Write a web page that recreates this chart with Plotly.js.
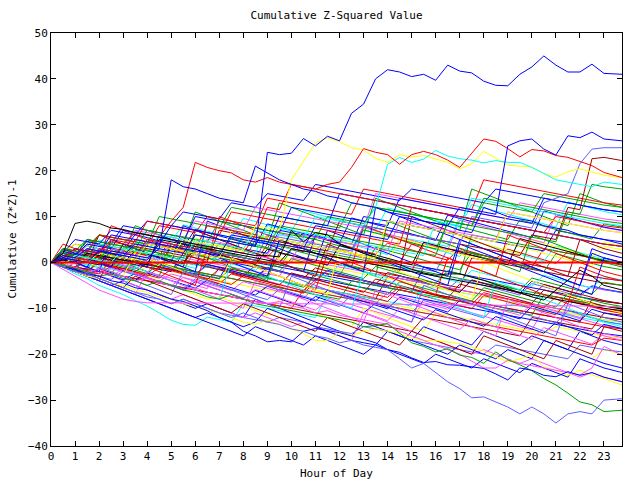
<!DOCTYPE html>
<html>
<head>
<meta charset="utf-8">
<script src="https://cdn.plot.ly/plotly-3.0.1.min.js"></script>
<style>html,body{margin:0;padding:0;background:#fff;}#chart{width:640px;height:480px;}</style>
</head>
<body>
<div id="chart"></div>
<script>
// Hour of day for each sample (half-hourly, last sample at 23.75)
var hours = [0,0.5,1,1.5,2,2.5,3,3.5,4,4.5,5,5.5,6,6.5,7,7.5,8,8.5,9,9.5,10,10.5,11,11.5,12,12.5,13,13.5,14,14.5,15,15.5,16,16.5,17,17.5,18,18.5,19,19.5,20,20.5,21,21.5,22,22.5,23,23.75];
var xTickLabels = ["0","1","2","3","4","5","6","7","8","9","10","11","12","13","14","15","16","17","18","19","20","21","22","23"];
var xTickValues = [0,1,2,3,4,5,6,7,8,9,10,11,12,13,14,15,16,17,18,19,20,21,22,23];

// Prominent traced series
var s01 = [0,1.5,1,3,2.5,2,1.5,4,3.5,3,2.5,2,6,5.5,5,4.5,4,3.5,24,23.5,23.8,27,25.4,27.5,26.5,32.5,34.5,40,42,41.5,40.5,41,39.7,43,41.7,41.3,39.5,38.6,38.5,41,42.6,45,43,41.5,41.5,43.2,41.2,41];
var s02 = [0,1,0.5,0,2.5,2,1.5,1,0.5,4,3.5,3,2.5,2,1.5,6,5.5,5,4.5,4,3.5,3,8,7.5,7,6.5,6,5.5,5,10,9.5,9,8.5,8,12,11.5,11,10.5,25.4,26.5,26.9,24.7,23.4,27.6,27.2,28.4,26.9,26.5];
var s03 = [0,1,3,2.5,2,4.5,4,6.5,6,5.5,9,12,21.8,20.7,20,19.5,18,17.5,18.5,17.5,17,16.5,16,17,17.5,20.7,24.8,24,23.5,21.4,23.5,24.2,23.5,22.3,20.7,23.8,26.9,26.4,24.8,23,24.6,24.3,23.3,22.9,22,21.1,19.6,18.5];
var s04 = [0,-0.5,1.5,1,0.5,0,3,2.5,2,1.5,1,5,4.5,4,3.5,3,2.5,8,7.5,7,18,22,26,27.2,26.3,25,24.5,22.7,21.8,23.5,23,23.3,22.6,21.8,20.4,21.5,24.2,22.7,21.2,21,20.8,19.3,18.6,19.8,20.4,19.7,19,18.5];
var s05 = [0,-1,1.5,1,0.5,0,3,2.5,2,1.5,1,0.5,5,4.5,4,3.5,3,7,6.5,6,5.5,5,10,9.5,9,8.5,8,12,21.4,22.9,21.8,22.5,24.4,23.2,22.6,22.3,21.7,22.2,21.8,21.8,20.7,19.4,18,17.5,17,16.5,17.5,17];
var s06 = [0,-1,-2,-2.5,-3.5,-4.5,-5.5,-6.5,-7.5,-8,-9,-8,-9,-10,-11,-12,-11,-12,-13,-13.5,-14.5,-15,-16,-16.5,-17.5,-17,-18,-18.5,-19,-21,-23,-22,-24,-26,-27.5,-29.5,-29.3,-30.4,-31.5,-33,-31.5,-33,-35,-33,-32.5,-33,-30,-29.7];
var s07 = [0,-1,-1.5,-2.5,-3,-4,-4.5,-5.5,-6,-7,-8,-8.5,-9.5,-10.5,-12,-13,-15,-16,-17.3,-17,-17.3,-15,-14.4,-14.8,-15.3,-16,-16.8,-17.5,-19,-19.6,-20.8,-21.8,-21.6,-22.3,-22.4,-22.8,-23.1,-24.3,-25.6,-23,-23.5,-24.6,-24.9,-23.8,-24.6,-24,-25,-26];
var s08 = [0,-0.5,-1.5,-2,-3,-2.5,-3.5,-4,-5,-4,-5,-6,-6.5,-7.5,-8,-7,-8,-9,-9.5,-10,-10.5,-11,-11.5,-12,-12.5,-13,-14,-13.8,-13.3,-15.5,-17.5,-18.3,-19.5,-18.8,-20.2,-20.7,-22,-19.5,-21.2,-22.3,-23.6,-25.3,-26.7,-28.5,-30.4,-31,-32.5,-32.2];
var s09 = [0,-0.5,-1,-2,-1.5,-2.5,-3,-4,-3.5,-4.5,-5,-6,-5.5,-6.5,-7,-7.5,-8,-8.5,-9,-8.5,-9.5,-10,-11,-10.5,-11.5,-12,-12.5,-13,-13.5,-15,-16,-17,-18,-19,-20,-21.5,-23,-23,-21.3,-22,-22.5,-23,-23.4,-24,-24.5,-23,-18.3,-20.2];
var s10 = [0,0,0,0,0,0,0,0,0,0,0,0,0,0,0,0,0,0,0,0,0,0,0,0,0,0,0,0,0,0,0,0,0,0,0,0,0,0,0,0,0,0,0,0,0,0,0,0];
var s11 = [0,-1.5,-3,-4.5,-6,-7,-8,-8.5,-8.8,-8.8,-8.8,-8.8,-8.8,-8.8,-8.8,-8.9,-8.9,-8.9,-8.9,-8.9,-9,-9,-9,-9,-9,-9,-9.1,-9.1,-9.1,-9.1,-9.2,-9.2,-9.2,-9.2,-9.3,-9.3,-9.3,-9.3,-9.4,-9.4,-9.4,-9.4,-9.5,-9.5,-9.5,-9.5,-9.6,-9.6];
var s12 = [0,2,8.5,9,8.5,7.5,7.2,6.5,6,5.5,5,4.5,4,3.5,3,2.5,2,1.5,1.5,1.2,7,4.5,6.5,6,4.1,3,2,1.2,0.4,-0.5,-1.5,-2.3,-2.8,-2.5,-2.5,-3.2,-3.9,-4.8,-5.7,-6.5,-7.5,-8.2,-6,-3.9,-1.7,-3,-5,-6];
var s13 = [0,1,0.5,0,-0.5,2.5,2,1.5,1,3,18,16.5,16,15,14,13.5,13,21,19.5,18,17,16,15.5,14.5,14,13,12.5,12,11,10.5,10,9,8.5,8,7,6.5,12,11,10,9.5,9,8,7.5,7,6,5.5,5,4];
var s14 = [0,-1,-2,-3,-3.5,-4.5,-5,-6,-6.5,-7.5,-8,-9,-9.5,-10.5,-11,-12,-13,-13.5,-12.6,-13.5,-14.5,-15.5,-17,-17,-15.2,-15.9,-15,-14.5,-15,-15.5,-16.5,-17,-17,-17.3,-17.7,-18.5,-19.3,-20.5,-21.7,-21,-20.2,-22.8,-23.5,-24.6,-23.5,-24.5,-25.3,-26.7];

// Bundle series
var b01 = [0,2,1.5,1,4,3.5,3,2.5,2,1.5,5,4.5,4,3.5,3,2.5,2,6,5.5,5,4.5,4,3.5,3,2.5,2,1.5,1,0.5,0,4,3.5,3,2.5,2,1.5,1,0.5,0,-0.5,-1,3,2.5,2,1.5,1,0.5,0];
var b02 = [0,-0.5,-1,2,1.5,1,0.5,0,-0.5,-1,-1.5,-2,3,2.5,2,1.5,1,0.5,0,-0.5,-1,-1.5,-2,-2.5,-3,2,1.5,1,0.5,0,-0.5,-1,-1.5,-2,-2.5,6,5.5,5,4.5,4,3.5,3,2.5,2,1.5,1,0.5,0];
var b03 = [0,3,2.5,2,1.5,1,0.5,0,-0.5,-1,-1.5,-2,-2.5,-3,-3.5,1,0.5,0,-0.5,-1,-1.5,-2,-2.5,-3,-3.5,-4,-4.5,-5,-5.5,-6,-6.5,-1,-1.5,-2,-2.5,-3,-3.5,-4,-4.5,-5,-5.5,-6,-6.5,-7,-7.5,-8,-8.5,-9];
var b04 = [0,-0.8,-1.6,-2.4,1,0.3,-0.5,-1.2,-2,-2.7,-3.5,-4.2,-5,-5.7,-1,-1.7,-2.5,-3.2,-4,-4.7,-5.5,-6.2,-7,-7.7,-8.5,-9.2,-10,-10.7,-11.5,-12.2,-13,-8,-8.7,-9.5,-10.2,-11,-11.7,-12.5,-13.2,-14,-14.7,-10,-10.7,-11.5,-12.2,-13,-13.7,-14.5];
var b05 = [0,-1,-2.5,-3.5,-5,-6,-7,-8.3,-9.5,-11,-12.6,-13.5,-13.7,-11.9,-12.5,-13,-9,-9.5,-10,-10.5,-11,-11.5,-12,-7,-7.5,-8,-8.5,-9,-9.5,-10,-10.5,-11,-11.5,-12,-12.5,-13,-13.5,-14,-9,-9.5,-10,-10.5,-11,-11.5,-12,-12.5,-13,-13.5];
var b06 = [0,1,0.5,0,-0.5,-1,3,2.5,2,1.5,1,0.5,0,-0.5,-1,-1.5,-2,-2.5,-3,2,1.5,1,0.5,0,-0.5,-1,-1.5,-2,-2.5,-3,-3.5,-4,-4.5,-5,-5.5,1,0.5,0,-0.5,-1,-1.5,-2,-2.5,-3,-3.5,-4,-4.5,-5];
var b07 = [0,-1,-2,-3,-4,-5,-6,-2,-3,-4,-5,-6,-7,-8,-7.5,-8.5,-9.5,-10.5,-11.5,-8,-9,-10,-11,-12,-13,-14,-10,-11,-12,-13,-14,-15,-11,-12,-13,-14,-15,-16,-17,-18,-16,-17,-18,-19,-20,-21,-19,-20];
var b08 = [0,1.5,1,0.5,0,3,2.5,2,1.5,1,0.5,0,-0.5,-1,-1.5,-2,-2.5,-3,-3.5,-4,-4.5,-5,-5.5,-6,-6.5,-7,-7.5,-8,-3,-3.5,-4,-4.5,-5,-5.5,-6,-6.5,-7,-7.5,-8,-8.5,-9,-9.5,-10,-10.5,-11,-11.5,-12,-12.5];
var b09 = [0,-0.5,2,1.5,1,0.5,0,-0.5,4,3.5,3,2.5,2,1.5,1,0.5,6,5.5,5,4.5,4,3.5,3,2.5,2,1.5,1,0.5,0,-0.5,-1,-1.5,-2,3,2.5,2,1.5,1,0.5,0,-0.5,-1,-1.5,-2,-2.5,-3,-3.5,-4];
var b10 = [0,-0.5,-1,-1.5,-2,-2.5,1,0.5,0,-0.5,-1,-1.5,-2,-2.5,-3,-3.5,-4,-4.5,-5,-5.5,-6,-6.5,-2,-2.5,-3,-3.5,-4,-4.5,-5,-5.5,-6,-6.5,-7,-7.5,-8,-8.5,-9,-9.5,-10,-10.5,-11,-11.5,-12,-12.5,-13,-13.5,-14,-14.5];
var b11 = [0,2,4,3.5,6,5.5,5,4.5,4,3.5,3,2.5,2,1.5,1,0.5,0,5,4.5,4,3.5,3,2.5,2,1.5,1,0.5,0,-0.5,-1,-1.5,-2,-2.5,-3,-3.5,-4,-4.5,-5,-5.5,-6,-6.5,-7,-7.5,-8,-8.5,-9,-9.5,-10];
var b12 = [0,-1,-2,-3,-4,-5,-4,-5,-6,-7,-8,-9,-10,-9,-10,-11,-12,-8,-9,-10,-11,-12,-13,-14,-15,-16,-13,-14,-15,-16,-17,-14,-15,-16,-17,-18,-15,-16,-17,-18,-16,-17,-18,-19,-15,-16,-17,-18];
var b13 = [0,1,0.5,0,-0.5,-1,-1.5,-2,-2.5,2,1.5,1,0.5,0,-0.5,-1,-1.5,-2,-2.5,-3,1,0.5,0,-0.5,-1,-1.5,-2,-2.5,-3,-3.5,-4,-4.5,-5,-5.5,-6,-6.5,-7,-7.5,-8,-8.5,-9,-9.5,-10,-10.5,-5,-5.5,-6,-6.5];
var b14 = [0,1.5,3,2.5,2,1.5,1,5,4.5,4,3.5,3,2.5,8,7.5,7,6.5,6,5.5,5,4.5,4,3.5,3,2.5,2,7,6.5,6,5.5,5,4.5,4,3.5,10,9.5,9,8.5,8,7.5,7,6.5,6,5.5,5,4.5,4,3.5];
var b15 = [0,-0.5,-1,-1.5,-2,-2.5,-3,-3.5,-4,-4.5,-5,-5.5,-6,-6.5,-7,-7.5,-8,-8.5,-9,-9.5,-10,-10.5,-11,-11.5,-12,-12.5,-13,-13.5,-14,-14.5,-15,-12,-12.5,-13,-13.5,-14,-14.5,-15,-15.5,-16,-12,-12.5,-13,-13.5,-14,-14.5,-11,-11.5];
var b16 = [0,1,0.5,0,-0.5,-1,-1.5,-2,-1,-1.5,-2,-2.5,-3,-3.5,-4,-4.5,-5,-5.5,-6,-6.5,-7,-7.5,-6,-6.5,-7,-7.5,-8,-8.5,-9,-9.5,-10,-10.5,-11,-11.5,-12,-12.5,-13,-13.5,-14,-14.5,-15,-15.5,-14,-14.5,-15,-15.5,-16,-16.5];
var b17 = [0,0.5,2,1.5,1,0.5,0,-0.5,-1,-1.5,-2,2,1.5,1,0.5,0,-0.5,-1,-1.5,-2,-2.5,-3,-3.5,-4,-4.5,-5,-5.5,-6,-6.5,-7,-7.5,-8,-8.5,-9,-9.5,-10,-10.5,-11,-11.5,-12,-12.5,-13,-13.5,-14,-14.5,-15,-15.5,-16];
var b18 = [0,-1,-2,-2.5,-3.5,-4.5,-5.5,-6.5,-7,-8,-9,-8,-9,-10,-11,-11.5,-12,-12.5,-13,-12,-12.5,-13,-14,-14.5,-15,-15.5,-14,-14.5,-15,-16,-17,-17.5,-18,-18.5,-19,-19.5,-20,-18,-18.5,-19,-19.5,-20,-20.5,-21,-18,-18.5,-19,-19.5];
var b19 = [0,3,2.5,2,1.5,1,0.5,5,4.5,4,3.5,3,2.5,2,1.5,1,0.5,0,4,3.5,3,2.5,2,1.5,1,0.5,0,-0.5,-1,-1.5,-2,4,3.5,3,2.5,2,1.5,1,0.5,0,-0.5,-1,-1.5,-2,-2.5,-3,-3.5,-4];
var b20 = [0,-0.5,-1,-1.5,2,1.5,1,0.5,0,-0.5,-1,-1.5,-2,-2.5,-3,-3.5,-4,-4.5,-5,-5.5,-6,-6.5,-7,-7.5,-8,-4,-4.5,-5,-5.5,-6,-6.5,-7,-7.5,-8,-8.5,-9,-9.5,-10,-10.5,-11,-11.5,-7,-7.5,-8,-8.5,-9,-9.5,-10];
var b21 = [0,2,1.5,5,4.5,4,8,7.5,7,6.5,6,5.5,5,4.5,4,3.5,3,2.5,2,7,6.5,6,5.5,5,4.5,4,10,9.5,9,8.5,8,7.5,7,6.5,6,5.5,5,4.5,4,3.5,3,2.5,7,6.5,6,5.5,5,4.5];
var b22 = [0,-1,-2,-3,-2,-3,-4,-5,-6,-7,-8,-7,-8,-9,-10,-11,-12,-11,-12,-13,-14,-13,-14,-15,-16,-17,-11,-12,-13,-14,-15,-16,-17,-18,-19,-20,-19,-20,-21,-22,-21,-22,-23,-24,-25,-24,-25,-26];
var b23 = [0,0.5,0,-0.5,-1,-1.5,-2,-2.5,-3,1,0.5,0,-0.5,-1,-1.5,-2,-2.5,-3,-3.5,-4,-4.5,-5,-5.5,-6,-6.5,-7,-7.5,-8,-8.5,-9,-9.5,-5,-5.5,-6,-6.5,-7,-7.5,-8,-8.5,-9,-9.5,-10,-10.5,-11,-11.5,-12,-12.5,-13];
var b24 = [0,1,2,1.5,1,0.5,0,-0.5,-1,-1.5,4,3.5,3,2.5,2,1.5,1,0.5,0,-0.5,-1,-1.5,-2,-2.5,-3,-3.5,-4,-4.5,-5,-5.5,-6,-6.5,-7,-7.5,-8,-8.5,-9,-9.5,-10,-10.5,-11,-11.5,-12,-12.5,-13,-8,-8.5,-9];
var b25 = [0,2,4,3.5,3,2.5,2,1.5,1,6,5.5,5,4.5,4,3.5,3,2.5,2,1.5,1,0.5,0,-0.5,-1,-1.5,-2,-2.5,-3,-3.5,-4,-4.5,-5,-5.5,-6,-6.5,-7,-7.5,-8,-8.5,-9,-9.5,-10,-10.5,-11,-11.5,-12,-12.5,-13];
var b26 = [0,-1,-2,-3,-4,-5,-6,-7,-8,-9,-10,-11,-12,-11,-12,-13,-14,-13,-10,-11,-12,-13,-14,-15,-16,-17,-17.5,-18,-15,-16,-17,-18,-19,-20,-18,-19,-20,-21,-19,-20,-21,-17,-18,-19,-20,-21,-22,-23];
var b27 = [0,-0.5,-1,-1.5,-2,-2.5,-3,-3.5,-4,-4.5,-5,-5.5,-6,-6.5,-7,-7.5,-8,-8.5,-9,-9.5,-10,-6,-6.5,-7,-7.5,-8,-8.5,-9,-9.5,-10,-10.5,-11,-11.5,-12,-12.5,-13,-13.5,-14,-14.5,-15,-15.5,-16,-16.5,-17,-17.5,-18,-16.5,-17];

// Jagged mid-band series
var c01 = [0,0.6,-0.1,1.8,1.1,0.4,2.9,2.2,1.6,0.9,3.4,2.7,2,1.4,4.1,3.3,2.6,1.9,1.2,3.8,3,2.3,5.6,4.8,4.1,3.3,2.5,1.8,4.2,3.5,2.7,2,1.2,0.5,3.1,2.3,1.5,0.8,2.9,2.1,1.3,0.6,-0.2,2.4,1.6,0.8,0.1,-0.6];
var c02 = [0,-0.7,-1.3,0.4,-0.3,-1,-1.8,0.9,0.2,-0.5,-1.2,-1.9,-2.6,-0.4,-1.1,-1.8,-2.5,-3.2,-1.1,-1.8,-2.6,-3.3,-4,-1.7,-2.4,-3.1,-3.9,-4.6,-5.3,-2.9,-3.6,-4.3,-5,-5.8,-6.5,-3.8,-4.5,-5.2,-6,-6.7,-4.1,-4.8,-5.5,-6.3,-7,-5.1,-5.8,-6.5];
var c03 = [0,1.4,0.7,0,2.3,1.6,0.8,0.1,-0.6,1.9,1.2,0.5,-0.3,-1,1.6,0.9,0.2,-0.5,-1.2,-1.9,0.8,0.1,-0.6,-1.4,-2.1,-2.8,-3.5,-0.9,-1.6,-2.3,-3,-3.7,-4.5,-1.8,-2.5,-3.2,-3.9,-4.6,-5.3,-6,-3.4,-4.1,-4.8,-5.5,-6.2,-6.9,-4.3,-5];
var c04 = [0,-0.8,-1.6,-2.3,-3,-1.2,-2,-2.7,-3.4,-4.1,-2.5,-3.2,-4,-4.7,-5.4,-6.1,-4.2,-4.9,-5.6,-6.4,-7.1,-7.8,-5.3,-6,-6.7,-7.4,-8.2,-8.9,-6.6,-7.3,-8,-8.7,-9.5,-10.2,-7.9,-8.6,-9.3,-10,-10.8,-11.5,-9.1,-9.8,-10.5,-11.2,-12,-9.6,-10.3,-11];
var c05 = [0,2.1,1.4,3.6,2.9,2.1,1.4,4.3,3.6,2.8,2.1,5.2,4.5,3.7,3,2.3,5.8,5.1,4.3,3.6,2.9,2.1,6.1,5.4,4.6,3.9,3.2,2.4,1.7,5,4.3,3.5,2.8,2.1,1.3,4.7,4,3.2,2.5,1.8,1,0.3,3.6,2.9,2.2,1.4,0.7,0];
var c06 = [0,-0.5,1.3,0.6,-0.1,-0.8,1,0.3,-0.4,-1.1,-1.8,0.5,-0.2,-0.9,-1.6,-2.3,-3,-0.6,-1.3,-2,-2.7,-3.4,-1.2,-1.9,-2.6,-3.3,-4,-4.7,-2.2,-2.9,-3.6,-4.3,-5,-5.7,-6.4,-3.9,-4.6,-5.3,-6,-6.7,-7.4,-4.8,-5.5,-6.2,-6.9,-7.6,-8.3,-9];
var c07 = [0,1,2.6,1.9,1.2,3.5,2.8,2,4.6,3.9,3.1,2.4,5.3,4.6,3.8,3.1,6.2,5.5,4.7,4,3.3,7.1,6.4,5.6,4.9,4.2,3.4,6.8,6.1,5.3,4.6,3.9,3.1,2.4,5.5,4.8,4,3.3,2.6,1.8,4.9,4.2,3.4,2.7,2,1.2,4.4,3.7];
var c08 = [0,-0.9,-1.8,-2.6,-1.4,-2.2,-3.1,-3.9,-2.3,-3.1,-4,-4.8,-5.6,-3.9,-4.7,-5.5,-6.3,-7.1,-5.2,-6,-6.8,-7.6,-8.4,-6.1,-6.9,-7.7,-8.5,-9.3,-10.1,-7.6,-8.4,-9.2,-10,-10.8,-8.3,-9.1,-9.9,-10.7,-11.5,-12.3,-9.5,-10.3,-11.1,-11.9,-12.7,-10.2,-11,-11.8];
var c09 = [0,0.4,-0.3,-1,0.7,0,-0.7,-1.4,0.2,-0.5,-1.2,-1.9,-2.6,-0.7,-1.4,-2.1,-2.8,-3.5,-1.3,-2,-2.7,-3.4,-4.1,-1.9,-2.6,-3.3,-4,-4.7,-5.4,-3,-3.7,-4.4,-5.1,-5.8,-3.6,-4.3,-5,-5.7,-6.4,-7.1,-4.6,-5.3,-6,-6.7,-7.4,-5.2,-5.9,-6.6];
var c10 = [0,1.7,1,0.3,2.5,1.8,1.1,3.4,2.7,2,1.3,4.2,3.5,2.8,2.1,5.3,4.6,3.9,3.2,2.5,6.4,5.7,5,4.3,3.6,2.9,7.1,6.4,5.7,5,4.3,3.6,2.9,8.5,7.8,7.1,6.4,5.7,5,9.3,8.6,7.9,7.2,6.5,5.8,5.1,8.4,7.7];
var c11 = [0,-0.6,-1.2,-1.9,-2.5,-0.8,-1.4,-2.1,-2.7,-3.4,-1.5,-2.2,-2.8,-3.5,-4.1,-4.8,-2.9,-3.6,-4.2,-4.9,-5.5,-6.2,-3.7,-4.4,-5,-5.7,-6.3,-7,-7.6,-5.2,-5.9,-6.5,-7.2,-7.8,-8.5,-9.1,-6.6,-7.3,-7.9,-8.6,-9.2,-9.9,-7.5,-8.1,-8.8,-9.4,-10.1,-10.7];
var c12 = [0,0.9,0.2,-0.5,-1.2,0.6,-0.1,-0.8,1.5,0.8,0.1,-0.6,-1.3,1.1,0.4,-0.3,-1,-1.7,0.4,-0.3,-1,-1.7,-2.4,-3.1,-0.5,-1.2,-1.9,-2.6,-3.3,-0.9,-1.6,-2.3,-3,-3.7,-4.4,-1.7,-2.4,-3.1,-3.8,-4.5,-5.2,-2.8,-3.5,-4.2,-4.9,-5.6,-3.1,-3.8];
var c13 = [0,-1,-2,-1.1,-2,-2.9,-3.8,-2.4,-3.3,-4.2,-5.1,-6,-4.2,-5.1,-6,-6.9,-7.8,-6.1,-7,-7.9,-8.8,-9.7,-7.4,-8.3,-9.2,-10.1,-11,-8.9,-9.8,-10.7,-11.6,-12.5,-10.3,-11.2,-12.1,-13,-13.9,-11.8,-12.7,-13.6,-14.5,-15.4,-13.1,-14,-14.9,-15.8,-13.5,-14.4];
var c14 = [0,1.1,2.5,1.8,3.7,3,2.3,1.6,4.4,3.7,3,2.3,1.6,5.1,4.4,3.7,3,2.3,1.6,6.3,5.6,4.9,4.2,3.5,2.8,2.1,7.6,6.9,6.2,5.5,4.8,4.1,3.4,2.7,9.2,8.5,7.8,7.1,6.4,5.7,5,4.3,10.4,9.7,9,8.3,7.6,6.9];
var c15 = [0,-0.3,-1,0.8,0.1,-0.6,-1.3,-2,-0.2,-0.9,-1.6,-2.3,-3,-3.7,-1.4,-2.1,-2.8,-3.5,-4.2,-4.9,-2.3,-3,-3.7,-4.4,-5.1,-5.8,-6.5,-3.6,-4.3,-5,-5.7,-6.4,-7.1,-7.8,-4.7,-5.4,-6.1,-6.8,-7.5,-8.2,-8.9,-6,-6.7,-7.4,-8.1,-8.8,-9.5,-10.2];
var c16 = [0,2.7,2,1.3,0.6,-0.1,3.2,2.5,1.8,1.1,0.4,-0.3,3.9,3.2,2.5,1.8,1.1,0.4,-0.3,-1,2.8,2.1,1.4,0.7,0,-0.7,-1.4,3.3,2.6,1.9,1.2,0.5,-0.2,-0.9,-1.6,2.2,1.5,0.8,0.1,-0.6,-1.3,-2,1.9,1.2,0.5,-0.2,-0.9,-1.6];
var c17 = [0,-0.7,-1.5,-2.2,-3,-3.7,-1.9,-2.7,-3.4,-4.2,-4.9,-5.7,-3.6,-4.4,-5.1,-5.9,-6.6,-7.4,-8.1,-5.8,-6.6,-7.3,-8.1,-8.8,-9.6,-7.1,-7.9,-8.6,-9.4,-10.1,-10.9,-8.3,-9.1,-9.8,-10.6,-11.3,-12.1,-9.4,-10.2,-10.9,-11.7,-12.4,-13.2,-10.5,-11.3,-12,-12.8,-13.5];
var c18 = [0,1.8,1.1,0.4,-0.3,2.2,1.5,0.8,0.1,-0.6,2.9,2.2,1.5,0.8,0.1,3.6,2.9,2.2,1.5,0.8,0.1,-0.6,4.2,3.5,2.8,2.1,1.4,0.7,0,5.3,4.6,3.9,3.2,2.5,1.8,1.1,0.4,-0.3,4.1,3.4,2.7,2,1.3,0.6,-0.1,-0.8,3.5,2.8];
var c19 = [0,1.3,3.1,2.4,4.9,4.2,3.5,6.8,6.1,5.4,4.7,8.2,7.5,6.8,6.1,5.4,9.6,8.9,8.2,7.5,6.8,11.3,10.6,9.9,9.2,8.5,7.8,7.1,11.9,11.2,10.5,9.8,9.1,8.4,7.7,12.6,11.9,11.2,10.5,9.8,9.1,8.4,7.7,13.2,12.5,11.8,11.1,10.4];
var c20 = [0,-0.4,-1.1,-1.8,-0.2,-0.9,-1.6,-2.3,-3,-1.1,-1.8,-2.5,-3.2,-3.9,-4.6,-2.5,-3.2,-3.9,-4.6,-5.3,-6,-6.7,-4.3,-5,-5.7,-6.4,-7.1,-7.8,-8.5,-5.9,-6.6,-7.3,-8,-8.7,-9.4,-10.1,-7.2,-7.9,-8.6,-9.3,-10,-10.7,-11.4,-8.3,-9,-9.7,-10.4,-11.1];
var c21 = [0,2.4,1.7,4.6,3.9,3.2,2.5,6.1,5.4,4.7,4,3.3,7.2,6.5,5.8,5.1,4.4,3.7,8.4,7.7,7,6.3,5.6,4.9,4.2,9.7,9,8.3,7.6,6.9,6.2,5.5,4.8,10.3,9.6,8.9,8.2,7.5,6.8,6.1,5.4,11.2,10.5,9.8,9.1,8.4,7.7,7];
var c22 = [0,-1,-0.2,-1.1,-2,-2.9,-1.5,-2.4,-3.3,-4.2,-5.1,-3.3,-4.2,-5.1,-6,-6.9,-7.8,-5.9,-6.8,-7.7,-8.6,-9.5,-10.4,-8.2,-9.1,-10,-10.9,-11.8,-12.7,-10.1,-11,-11.9,-12.8,-13.7,-14.6,-12.3,-13.2,-14.1,-15,-15.9,-16.8,-14.2,-15.1,-16,-16.9,-17.8,-15.5,-16.4];
var c23 = [0,0.8,0.1,1.9,1.2,0.5,-0.2,2.6,1.9,1.2,0.5,-0.2,3.1,2.4,1.7,1,0.3,-0.4,2.9,2.2,1.5,0.8,0.1,-0.6,3.7,3,2.3,1.6,0.9,0.2,-0.5,4.4,3.7,3,2.3,1.6,0.9,0.2,-0.5,5.2,4.5,3.8,3.1,2.4,1.7,1,0.3,-0.4];
var c24 = [0,-0.6,-1.3,-2,0.4,-0.3,-1,-1.7,-2.4,-0.1,-0.8,-1.5,-2.2,-2.9,-3.6,-1.2,-1.9,-2.6,-3.3,-4,-4.7,-5.4,-2.8,-3.5,-4.2,-4.9,-5.6,-6.3,-7,-4.2,-4.9,-5.6,-6.3,-7,-7.7,-8.4,-5.5,-6.2,-6.9,-7.6,-8.3,-9,-9.7,-6.8,-7.5,-8.2,-8.9,-9.6];

// Sawtooth series (steady decline, sudden rises)
var d01 = [0,-1,-2,3,2,1,0,-1,-2,-3,4,3,2,1,0,-1,-2,-3,-4,5,4,3,2,1,0,-1,-2,-3,9,8,7,6,5,4,3,2,1,0,-1,-2,6,5,4,3,2,1,0,-1];
var d02 = [0,-1,-2,-3,-4,2,1,0,-1,-2,-3,-4,-5,3,2,1,0,-1,-2,-3,-4,-5,-6,2,1,0,-1,-2,-3,-4,-5,-6,-7,1,0,-1,-2,-3,-4,-5,-6,-7,-8,-9,-1,-2,-3,-4];
var d03 = [0,1,0,-1,-2,5,4,3,2,1,0,8,7,6,5,4,3,2,1,0,-1,-2,6,5,4,3,2,1,0,-1,-2,-3,-4,-5,4,3,2,1,0,-1,-2,-3,-4,-5,-6,-7,1,0];
var d04 = [0,-1,-2,-3,-4,-5,-6,-1,-2,-3,-4,-5,-6,-7,-8,0,-1,-2,-3,-4,-5,-6,-7,-8,-9,-10,-2,-3,-4,-5,-6,-7,-8,-9,-10,-11,-12,-4,-5,-6,-7,-8,-9,-10,-11,-12,-13,-14];
var d05 = [0,2,1,0,6,5,4,3,2,1,0,-1,7,6,5,4,3,2,1,0,-1,-2,-3,4,3,2,1,0,-1,-2,10,9,8,7,6,5,4,3,2,1,0,-1,-2,-3,5,4,3,2];
var d06 = [0,-1,-2,-3,-4,-5,-6,-7,-2,-3,-4,-5,-6,-7,-8,-9,-10,-4,-5,-6,-7,-8,-9,-10,-11,-12,-13,-6,-7,-8,-9,-10,-11,-12,-13,-14,-15,-16,-8,-9,-10,-11,-12,-13,-14,-15,-16,-17];
var d07 = [0,3,2,1,0,-1,4,3,2,1,0,-1,-2,9,8,7,6,5,4,3,2,1,0,7,6,5,4,3,2,1,0,-1,-2,-3,5,4,3,2,1,0,-1,-2,-3,-4,-5,2,1,0];
var d08 = [0,-1,1,0,-1,-2,-3,2,1,0,-1,-2,-3,-4,-5,1,0,-1,-2,-3,-4,-5,-6,-7,3,2,1,0,-1,-2,-3,-4,-5,-6,-7,-8,0,-1,-2,-3,-4,-5,-6,-7,-8,-9,-10,-11];
var d09 = [0,4,3,2,1,8,7,6,5,4,3,2,1,0,10,9,8,7,6,5,4,3,2,1,0,-1,8,7,6,5,4,3,2,1,0,-1,-2,-3,6,5,4,3,2,1,0,-1,-2,-3];
var d10 = [0,-1,-2,-3,-1,-2,-3,-4,-5,-6,-7,-2,-3,-4,-5,-6,-7,-8,-9,-10,-3,-4,-5,-6,-7,-8,-9,-10,-11,-12,-13,-5,-6,-7,-8,-9,-10,-11,-12,-13,-14,-15,-16,-9,-10,-11,-12,-13];
var d11 = [0,2,1,5,4,3,2,8,7,6,5,4,11,10,9,8,7,6,5,13,12,11,10,9,8,7,6,14,13,12,11,10,9,8,7,16,15,14,13,12,11,10,9,8,15,14,13,12];
var d12 = [0,1,0,-1,3,2,1,0,-1,6,5,4,3,2,1,0,-1,-2,-3,5,4,3,2,1,0,-1,-2,12,11,10,9,8,7,6,5,4,3,2,1,0,-1,-2,-3,-4,-5,3,2,1];

// Extra upper and lower band series
var e01 = [0,2,5,4.5,4,7,6.5,6,9,8.5,8,11,10.5,10,9.5,13,12.5,12,15,14.5,14,13.5,17,16.5,16,15.5,15,14.5,14,13.5,16,15.5,15,14.5,14,13.5,13,16,15.5,15,14.5,14,13.5,13,12.5,12,11.5,11];
var e02 = [0,1,3,2.5,2,5,4.5,4,3.5,8,7.5,7,6.5,10,9.5,9,8.5,8,14,13.5,13,12.5,12,11.5,11,10.5,16,15.5,15,14.5,14,13.5,13,12.5,12,11.5,18,17.5,17,16.5,16,15.5,15,14.5,14,13.5,13,12.5];
var e03 = [0,3,2.5,2,6,5.5,5,4.5,4,10,9.5,9,8.5,8,7.5,12,11.5,11,10.5,10,9.5,9,8.5,8,7.5,13,12.5,12,11.5,11,10.5,10,9.5,9,8.5,8,14,13.5,13,12.5,12,11.5,11,10.5,10,9.5,9,8.5];
var e04 = [0,1,0.5,4,3.5,3,2.5,7,6.5,6,5.5,5,9,8.5,8,7.5,7,12,11.5,11,10.5,10,9.5,9,8.5,8,7.5,15,14.5,14,13.5,13,12.5,12,11.5,11,10.5,10,9.5,13,12.5,12,11.5,11,10.5,10,9.5,9];
var e05 = [0,-1,-2,-3,-4,-5,-6,-7,-8,-9,-10,-11,-12,-13,-14,-15,-16,-14,-15,-16,-17,-18,-16,-17,-18,-19,-20,-18,-19,-20,-21,-22,-20,-21,-22,-23,-21,-22,-23,-24,-22,-23,-24,-25,-21,-22,-23,-24];
var e06 = [0,-0.5,-1.5,-2.5,-3.5,-4.5,-5.5,-3,-4,-5,-6,-7,-8,-9,-10,-11,-9,-10,-11,-12,-13,-14,-15,-12,-13,-14,-15,-16,-17,-18,-15,-16,-17,-18,-19,-20,-16,-17,-18,-19,-20,-21,-17,-18,-19,-20,-14,-15];

// Upper-band series
var u01 = [0,2,1.5,4,3.5,3,7,6.5,6,5.5,5,4.5,10,9.5,9,8.5,8,7.5,7,6.5,12,11.5,11,10.5,10,9.5,9,8.5,8,14,13.5,13,12.5,12,11.5,11,10.5,10,9.5,9,8.5,14,13.5,13,12.5,12,11.5,11];
var u02 = [0,3,2.5,5,4.5,4,3.5,3,7,6.5,6,5.5,5,4.5,9,8.5,8,7.5,7,6.5,6,5.5,5,10,9.5,9,8.5,12,11.5,11,10.5,10,9.5,9,8.5,8,13,12.5,12,11.5,11,15,14.5,14,13.5,13,12.5,12];
var u03 = [0,1,3,2.5,6,5.5,5,4.5,9,8.5,8,7.5,7,6.5,6,11,10.5,10,9.5,9,8.5,8,7.5,7,6.5,6,5.5,5,4.5,4,12,11.5,11,10.5,10,9.5,9,8.5,8,7.5,7,6.5,10,9.5,9,8.5,8,7.5];
var u04 = [0,2,1.5,1,4,3.5,3,2.5,2,6,5.5,5,4.5,4,3.5,3,2.5,2,8,7.5,7,6.5,6,5.5,5,4.5,4,3.5,3,2.5,2,1.5,9,8.5,8,14,13.5,13,12.5,12,11.5,11,10.5,10,9.5,9,8.5,8];
var u05 = [0,1.5,1,0.5,3,2.5,2,1.5,1,0.5,5,4.5,4,3.5,3,2.5,2,1.5,1,0.5,0,6,5.5,5,4.5,4,3.5,3,2.5,9,8.5,8,7.5,7,6.5,6,5.5,5,11,10.5,10,9.5,9,8.5,8,7.5,7,6.5];
var u06 = [0,2,1.5,1,0.5,0,4,3.5,3,2.5,2,1.5,1,0.5,7,6.5,6,5.5,5,4.5,4,3.5,3,2.5,9,8.5,8,7.5,7,6.5,6,5.5,5,4.5,4,3.5,3,2.5,2,1.5,6,5.5,5,12,11.5,22.6,22.9,22.2];
var u07 = [0,1,0.5,3,2.5,2,1.5,1,5,4.5,4,3.5,3,2.5,2,1.5,1,0.5,6,5.5,5,4.5,4,3.5,3,2.5,8,7.5,7,6.5,6,5.5,5,4.5,4,10,9.5,9,8.5,8,7.5,13,14,15,21.5,24.7,25,25];
var u08 = [0,1,0.5,0,2,1.5,1,0.5,4,3.5,3,2.5,2,1.5,1,7,6.5,6,5.5,5,4.5,4,3.5,3,2.5,2,1.5,1,9,8.5,8,7.5,7,6.5,6,5.5,5,4.5,11,10.5,10,9.5,9,8.5,8,7.5,7,6.5];
var u09 = [0,0.5,0,2,1.5,1,0.5,0,-0.5,5,4.5,4,3.5,3,2.5,2,1.5,1,0.5,0,3,2.5,2,1.5,1,0.5,0,-0.5,-1,-1.5,-2,-2.5,-3,-3.5,-4,-4.5,-5,-5.5,-6,-6.5,-7,-7.5,-8,-8.5,-9,-9.5,-10,-10.5];
var u10 = [0,2,1.5,1,0.5,4,3.5,3,2.5,2,1.5,1,6,5.5,5,4.5,4,3.5,3,8,7.5,7,6.5,6,5.5,5,4.5,4,3.5,3,2.5,2,1.5,9,8.5,8,7.5,7,6.5,6,5.5,5,4.5,11,10.5,17,16.5,16];
var u11 = [0,1,3,2.5,2,6,5.5,5,4.5,4,8,7.5,7,6.5,6,5.5,5,4.5,4,10,9.5,9,8.5,8,15,14.5,14,13.5,13,12.5,12,11.5,11,10.5,10,9.5,9,8.5,8,7.5,7,6.5,6,5.5,5,4.5,4,3.5];
var u12 = [0,1.5,1,0.5,3,2.5,2,1.5,5,4.5,4,3.5,3,8,7.5,7,6.5,6,12,11.5,17,16.5,16,15.5,15,14.5,14,13.5,13,12.5,12,11.5,11,10.5,10,9.5,9,8.5,8,7.5,7,6.5,6,5.5,5,4.5,4,3.5];

// Styling (kept separate from data)
var RED='#ff0000', GREEN='#00a000', BLUE='#0000ff', MAG='#ff50ff', CYAN='#00ffff', DRED='#a00000', YEL='#ffff00', BLK='#000000', PUR='#6060ff';
var seriesList = [
  [b01,RED],[b02,GREEN],[b03,BLUE],[b04,MAG],[b05,CYAN],[b06,DRED],[b07,YEL],[b08,DRED],[b09,PUR],
  [b10,RED],[b11,GREEN],[b12,BLUE],[b13,MAG],[b14,CYAN],[b15,DRED],[b16,YEL],[b17,BLUE],[b18,PUR],
  [b19,RED],[b20,GREEN],[b21,BLUE],[b22,MAG],[b23,CYAN],[b24,DRED],[b25,YEL],[b26,BLUE],[b27,RED],
  [c01,RED],[c02,BLUE],[c03,GREEN],[c04,MAG],[c05,CYAN],[c06,DRED],[c07,YEL],[c08,BLUE],[c09,PUR],
  [c10,GREEN],[c11,RED],[c12,CYAN],[c13,BLUE],[c14,MAG],[c15,DRED],[c16,GREEN],[c17,PUR],[c18,YEL],
  [c19,CYAN],[c20,RED],[c21,BLUE],[c22,MAG],[c23,BLK],[c24,GREEN],
  [d01,GREEN],[d02,RED],[d03,BLUE],[d04,CYAN],[d05,DRED],[d06,MAG],[d07,BLUE],[d08,YEL],[d09,RED],
  [d10,PUR],[d11,GREEN],[d12,BLUE],
  [e01,BLUE],[e02,RED],[e03,GREEN],[e04,MAG],[e05,BLUE],[e06,DRED],
  [u01,BLUE],[u02,GREEN],[u03,RED],[u04,CYAN],[u05,MAG],[u06,DRED],[u07,PUR],[u08,YEL],[u09,BLK],
  [u10,GREEN],[u11,BLUE],[u12,RED],
  [s04,YEL],[s05,CYAN],[s03,RED],[s13,BLUE],[s02,BLUE],[s01,BLUE],
  [s14,YEL],[s09,MAG],[s08,GREEN],[s07,BLUE],[s06,PUR],[s11,MAG],[s12,BLK],[s10,RED]
];

var traces = seriesList.map(function (p) {
  return {
    x: hours, y: p[0], type: 'scatter', mode: 'lines',
    line: {color: p[1], width: (p[0] === s10 ? 2 : 1)},
    hoverinfo: 'skip', showlegend: false
  };
});

var FONT = {family: 'DejaVu Sans Mono, monospace', size: 11, color: '#000'};

var layout = {
  width: 640, height: 480,
  margin: {l: 51, r: 18, t: 33, b: 34, pad: 0},
  paper_bgcolor: '#fff', plot_bgcolor: '#fff',
  showlegend: false,
  font: FONT,
  title: {text: 'Cumulative Z-Squared Value', font: FONT, x: 0.5, xref: 'paper', y: 1 - 15/480, yref: 'container', yanchor: 'middle'},
  xaxis: {
    range: [0, 23.75], tickmode: 'array', tickvals: xTickValues, ticktext: xTickLabels,
    ticks: 'inside', ticklen: 5, tickcolor: '#000', tickwidth: 1,
    showline: true, linecolor: '#000', linewidth: 1, mirror: 'ticks',
    showgrid: false, zeroline: false, tickfont: FONT, fixedrange: true
  },
  yaxis: {
    range: [-40, 50], dtick: 10, tick0: 0,
    ticks: 'inside', ticklen: 5, tickcolor: '#000', tickwidth: 1,
    showline: true, linecolor: '#000', linewidth: 1, mirror: 'ticks',
    showgrid: false, zeroline: false, tickfont: FONT, fixedrange: true
  },
  annotations: [
    {text: 'Hour of Day', xref: 'paper', yref: 'paper', x: 0.5, y: (446 - 473) / 413, xanchor: 'center', yanchor: 'middle', showarrow: false, font: FONT},
    {text: 'Cumulative (Z*Z)-1', xref: 'paper', yref: 'paper', x: (12 - 51) / 571, y: 0.5, xanchor: 'center', yanchor: 'middle', textangle: -90, showarrow: false, font: FONT}
  ]
};

Plotly.newPlot('chart', traces, layout, {staticPlot: true, displayModeBar: false});
</script>
</body>
</html>
